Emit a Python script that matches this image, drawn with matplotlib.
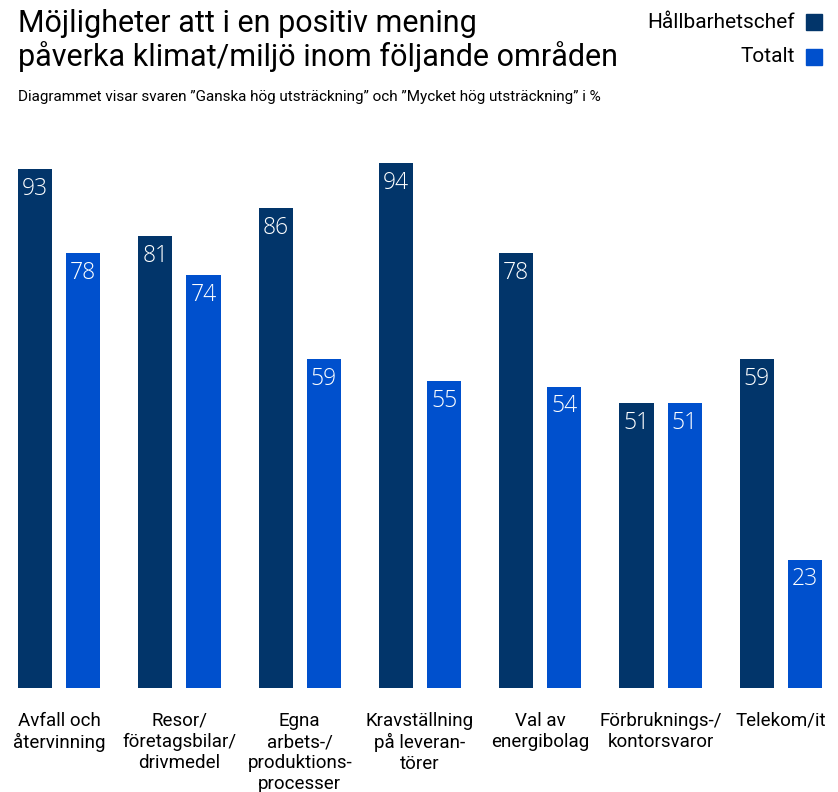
import numpy as np
import matplotlib
matplotlib.use("Agg")
import matplotlib.pyplot as plt

categories = ["Avfall och\nåtervinning", "Resor/\nföretagsbilar/\ndrivmedel",
              "Egna\narbets-/\nproduktions-\nprocesser", "Kravställning\npå leveran-\ntörer",
              "Val av\nenergibolag", "Förbruknings-/\nkontorsvaror", "Telekom/it"]
chef = [93, 81, 86, 94, 78, 51, 59]
totalt = [78, 74, 59, 55, 54, 51, 23]
series_names = ["Hållbarhetschef", "Totalt"]
colors = ["#02356A", "#0050CD"]

plt.rcParams['font.family'] = ['Roboto', 'DejaVu Sans']

fig = plt.figure(figsize=(8.38, 7.92), dpi=100)
ax = fig.add_axes([18/838, 104/792, 804/838, 558/792])

x = np.arange(len(categories))
off = 0.2
w = 0.2833
b1 = ax.bar(x - off, chef, w, color=colors[0])
b2 = ax.bar(x + off, totalt, w, color=colors[1])

for bars, vals in ((b1, chef), (b2, totalt)):
    for r, v in zip(bars, vals):
        ax.text(r.get_x() + r.get_width()/2, v - 1.4, str(v), ha='center', va='top',
                color='white', fontsize=16.5, family=['Open Sans', 'DejaVu Sans'],
                fontweight='light')

ax.set_xlim(-0.3417, 6.3417)
ax.set_ylim(0, 100)
ax.axis('off')

for xi, lab in zip(x, categories):
    ax.text(xi, -4.3, lab, ha='center', va='top', fontsize=13.5, linespacing=1.22)

fig.text(18/838, 1 - 9/792, "Möjligheter att i en positiv mening\npåverka klimat/miljö inom följande områden",
         ha='left', va='top', fontsize=22, linespacing=1.12)
fig.text(18/838, 1 - 97/792, "Diagrammet visar svaren \u201dGanska hög utsträckning\u201d och \u201dMycket hög utsträckning\u201d i %",
         ha='left', va='center', fontsize=11)

for i, (name, c) in enumerate(zip(series_names, colors)):
    yc = 1 - (22 + 35*i)/792
    fig.text(795/838, yc, name, ha='right', va='center', fontsize=15)
    fig.patches.append(plt.Rectangle((806/838, yc - 8/792), 16/838, 16/792,
                                     transform=fig.transFigure, color=c))

fig.savefig("out.png", dpi=100)
